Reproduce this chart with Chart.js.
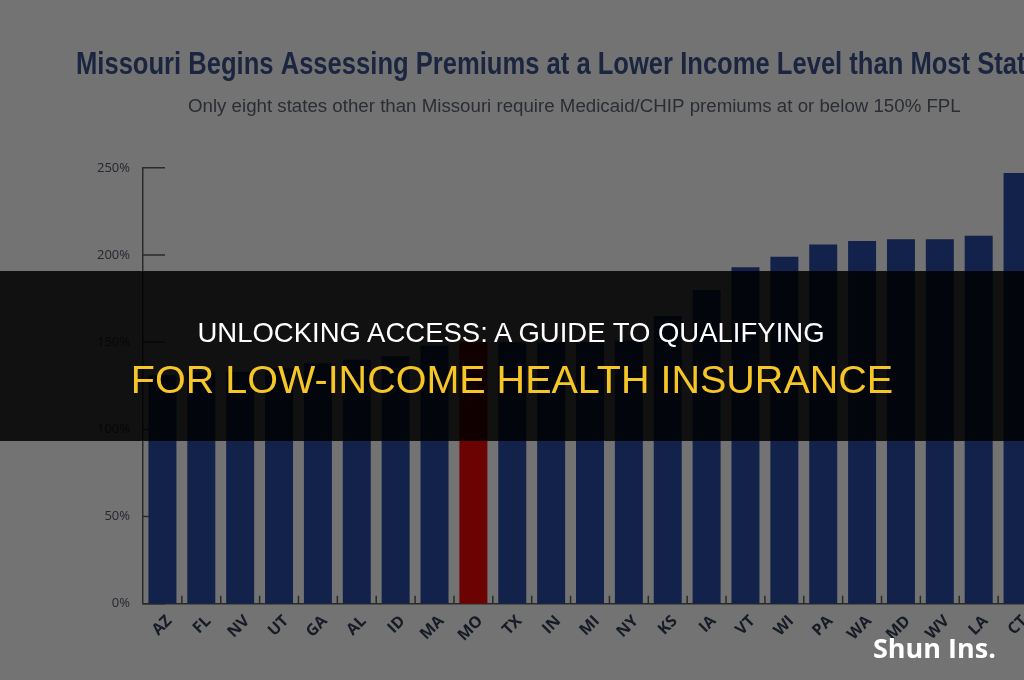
<!DOCTYPE html>
<html>
<head>
<meta charset="utf-8">
<script src="https://cdn.jsdelivr.net/npm/chart.js@4.4.1/dist/chart.umd.min.js"></script>
<style>
	html, body { margin: 0; padding: 0; width: 1024px; height: 680px; overflow: hidden; background: #737373; }
	#wrap { position: absolute; left: 0; top: 0; width: 1054px; height: 680px; }
	#band { position: absolute; left: 0; top: 271px; width: 1024px; height: 170px; background: rgba(0, 0, 0, 0.85); }
	.head { position: absolute; left: 0; width: 1024px; text-align: center; font-family: "Liberation Sans", Arial, sans-serif; white-space: nowrap; }
	#line1 { left: -1px; top: 317px; font-size: 27.5px; color: #ffffff; }
	#line2 { top: 357px; font-size: 39.5px; color: #f6c526; }
	#mark { position: absolute; left: 873px; top: 629px; font-family: "Open Sans", sans-serif; font-weight: 700; font-size: 27px; color: #ffffff; }
</style>
</head>
<body>
<div id="wrap"><canvas id="premiums" width="1054" height="680"></canvas></div>
<div id="band"></div>
<div class="head" id="line1">UNLOCKING ACCESS: A GUIDE TO QUALIFYING</div>
<div class="head" id="line2">FOR LOW-INCOME HEALTH INSURANCE</div>
<div id="mark">Shun Ins.</div>
<script>
// 주별 보험료 부과 시작 소득 수준 (% FPL)
const states = ['AZ', 'FL', 'NV', 'UT', 'GA', 'AL', 'ID', 'MA', 'MO', 'TX', 'IN', 'MI', 'NY', 'KS', 'IA', 'VT', 'WI', 'PA', 'WA', 'MD', 'WV', 'LA', 'CT'];
const premiumLevel = [131, 133, 133, 135, 138, 140, 142, 148, 150, 150, 150, 150, 151, 165, 180, 193, 199, 206, 208, 209, 209, 211, 247];
const highlight = 'MO';
const yTicks = [0, 50, 100, 150, 200, 250];

const navy = '#13224a';
const red = '#6c0303';
const ink = '#24272e';

// 배경
const background = {
	id: 'background',
	beforeDraw(chart) {
		const ctx = chart.ctx;
		ctx.save();
		ctx.fillStyle = '#737373';
		ctx.fillRect(0, 0, chart.width, chart.height);
		ctx.restore();
	}
};

// 안쪽으로 향하는 눈금 표시
const innerTicks = {
	id: 'innerTicks',
	beforeDatasetsDraw(chart) {
		const ctx = chart.ctx;
		const x = chart.scales.x;
		const y = chart.scales.y;
		ctx.save();
		ctx.strokeStyle = '#2b2b2b';
		ctx.lineWidth = 1.5;
		ctx.beginPath();
		yTicks.forEach(function(t) {
			const py = y.getPixelForValue(t);
			ctx.moveTo(x.left, py);
			ctx.lineTo(x.left + 22, py);
		});
		for (let i = 1; i < states.length; i++) {
			const px = x.getPixelForValue(i - 0.5);
			ctx.moveTo(px, y.bottom);
			ctx.lineTo(px, y.bottom - 8);
		}
		ctx.stroke();
		ctx.restore();
	}
};

var premiums = document.getElementById('premiums').getContext('2d');
var premiums = new Chart(premiums, {
	type: 'bar',
	data: {
		labels: states,
		datasets: [{
			label: 'Premium starts at (% FPL)',
			data: premiumLevel,
			backgroundColor: states.map(s => s === highlight ? red : navy),
			borderWidth: 0,
			barPercentage: 0.72,
			categoryPercentage: 1
		}]
	},
	options: {
		responsive: false,
		animation: false,
		layout: {
			padding: { left: 76, right: 0, top: 0, bottom: 27 }
		},
		plugins: {
			legend: { display: false },
			tooltip: { enabled: false },
			title: {
				display: true,
				text: 'Missouri Begins Assessing Premiums at a Lower Income Level than Most States',
				color: '#1b2540',
				font: { family: '"Liberation Sans Narrow", sans-serif', size: 32, weight: 'bold' },
				padding: { top: 46, bottom: 11 }
			},
			subtitle: {
				display: true,
				text: '\u2002\u2002Only eight states other than Missouri require Medicaid/CHIP premiums at or below 150% FPL',
				color: '#2a2d33',
				font: { family: '"Liberation Sans Narrow", sans-serif', size: 18.7 },
				padding: { top: 0, bottom: 50 }
			}
		},
		scales: {
			y: {
				min: 0,
				max: 250,
				afterBuildTicks(scale) {
					scale.ticks = yTicks.map(v => ({ value: v }));
				},
				afterFit(scale) {
					scale.width = 67;
				},
				grid: { display: false, drawTicks: false },
				border: { display: true, color: '#2b2b2b', width: 1.5 },
				ticks: {
					padding: 13,
					color: ink,
					font: { family: '"Open Sans", sans-serif', size: 13 },
					callback: v => v + '%'
				}
			},
			// 오른쪽 여백용 빈 축
			yRight: {
				position: 'right',
				afterFit(scale) {
					scale.width = 17;
				},
				grid: { display: false, drawTicks: false },
				border: { display: false },
				ticks: { display: false }
			},
			x: {
				grid: { display: false, drawTicks: false },
				border: { display: true, color: '#2b2b2b', width: 1.5 },
				ticks: {
					minRotation: 45,
					maxRotation: 45,
					padding: 8,
					labelOffset: 7,
					color: '#161b26',
					font: { family: '"Open Sans", sans-serif', size: 16, weight: 'bold' }
				}
			}
		}
	},
	plugins: [background, innerTicks]
});
</script>
</body>
</html>
